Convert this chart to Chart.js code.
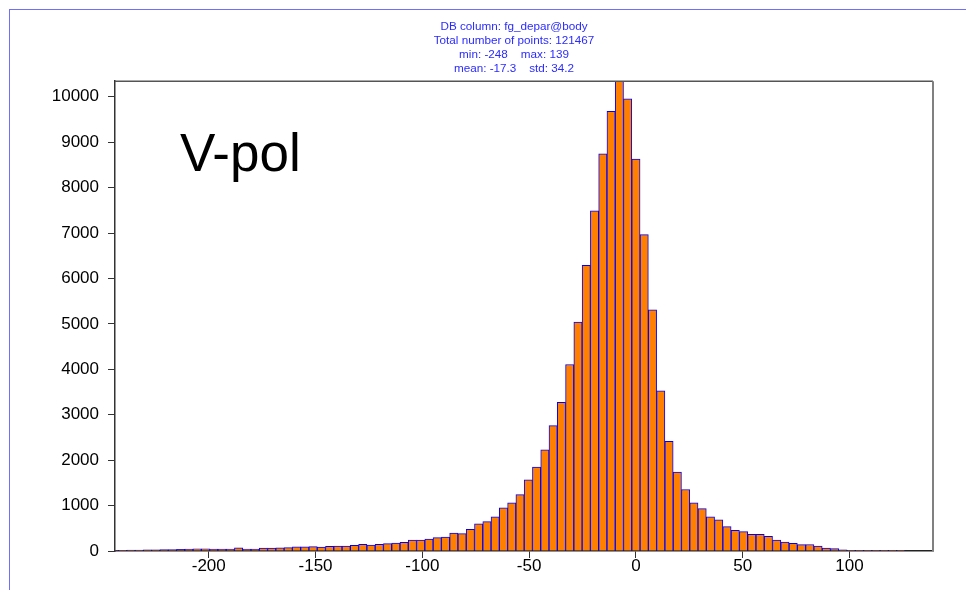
<!DOCTYPE html>
<html><head><meta charset="utf-8">
<script src="https://cdn.jsdelivr.net/npm/chart.js@4.4.0/dist/chart.umd.min.js"></script>
<style>
html,body{margin:0;padding:0;background:#fff;}
#wrap{position:relative;width:966px;height:590px;overflow:hidden;}
#frame{position:absolute;left:8.5px;top:8.5px;width:1200px;height:1200px;border-left:1.5px solid #6f6fff;border-top:1.5px solid #6f6fff;}
canvas{position:absolute;left:0;top:0;}
</style></head><body>
<div id="wrap"><div id="frame"></div><canvas id="c" width="966" height="590"></canvas></div>
<script>
// ---- data ----
const titleLines = [
  'DB column: fg_depar@body',
  'Total number of points: 121467',
  'min: -248    max: 139',
  'mean: -17.3    std: 34.2'
];
const panelLabel = 'V-pol';
const binStart = -246.12;   // left edge of first histogram bin
const binWidth = 3.876;     // histogram bin width
const counts = [
  10, 15, 20, 20, 25, 25, 30, 30, 35, 40,
  50, 50, 40, 40, 45, 70, 40, 45, 65, 65,
  70, 75, 90, 90, 95, 85, 102, 110, 110, 124,
  146, 132, 146, 161, 177, 190, 243, 243, 265, 294,
  309, 397, 382, 477, 596, 647, 750, 949, 1059, 1240,
  1567, 1846, 2229, 2759, 3274, 4106, 5040, 6291, 7490, 8742,
  9682, 10350, 9956, 8631, 6967, 5311, 3528, 2416, 1739, 1354,
  1062, 934, 750, 684, 536, 455, 426, 367, 367, 323,
  243, 199, 168, 139, 143, 110, 66, 51, 25, 15,
  8, 5, 3, 2, 1, 1, 0, 0, 0, 0
];
const xTickValues = [-200, -150, -100, -50, 0, 50, 100];
const yTickValues = [0, 1000, 2000, 3000, 4000, 5000, 6000, 7000, 8000, 9000, 10000];
const xMin = -243.9, xMax = 139.1;
const yMin = 0, yMax = 10344;

const binCenters = counts.map((_, i) => binStart + (i + 0.5) * binWidth);
const points = counts.map((c, i) => ({x: binCenters[i], y: c}));

const FONT = 'Liberation Sans, Arial, Helvetica, sans-serif';

const framePlugin = {
  id: 'frame',
  afterDraw(chart) {
    const {ctx, chartArea: a} = chart;
    ctx.save();
    ctx.lineWidth = 1.5;
    ctx.strokeStyle = '#555';
    ctx.beginPath(); ctx.moveTo(a.left, a.top); ctx.lineTo(a.right, a.top); ctx.stroke();
    ctx.strokeStyle = '#808080';
    ctx.lineWidth = 2;
    ctx.beginPath(); ctx.moveTo(a.right, a.top); ctx.lineTo(a.right, a.bottom); ctx.stroke();
    // panel label placed in data coordinates
    const px = chart.scales.x.getPixelForValue(-213.5);
    const py = chart.scales.y.getPixelForValue(8358);
    ctx.fillStyle = '#000';
    ctx.font = '53px ' + FONT;
    ctx.textBaseline = 'alphabetic';
    ctx.textAlign = 'left';
    ctx.fillText(panelLabel, px, py);
    ctx.restore();
  }
};

new Chart(document.getElementById('c'), {
  type: 'bar',
  data: {
    datasets: [{
      data: points,
      backgroundColor: '#ff8000',
      borderColor: '#0000ff',
      borderWidth: 1,
      barPercentage: 1,
      categoryPercentage: 1
    }]
  },
  options: {
    responsive: false,
    animation: false,
    devicePixelRatio: 1,
    layout: {padding: {left: 95, right: 33, top: 0, bottom: 0}},
    plugins: {
      legend: {display: false},
      tooltip: {enabled: false},
      title: {
        display: true,
        text: titleLines,
        color: '#2b2bff',
        font: {family: FONT, size: 11.7, weight: 'normal', lineHeight: 1.2},
        padding: {top: 20, bottom: 5}
      }
    },
    scales: {
      x: {
        type: 'linear',
        min: xMin, max: xMax,
        offset: false,
        afterFit(s) { s.height = 39; },
        afterBuildTicks(s) { s.ticks = xTickValues.map(v => ({value: v})); },
        grid: {display: true, drawOnChartArea: false, drawTicks: true, tickLength: 7, color: '#333', offset: false},
        border: {display: true, color: '#222', width: 1.5},
        ticks: {
          autoSkip: false, maxRotation: 0,
          color: '#000', padding: -2,
          font: {family: FONT, size: 17},
          callback: v => String(v)
        }
      },
      y: {
        type: 'linear',
        min: yMin, max: yMax,
        afterFit(s) { s.width = 20; s._computeLabelArea = () => undefined; },
        afterBuildTicks(s) { s.ticks = yTickValues.map(v => ({value: v})); },
        grid: {display: true, drawOnChartArea: false, drawTicks: true, tickLength: 7, color: '#333'},
        border: {display: true, color: '#333', width: 1.5},
        ticks: {
          autoSkip: false,
          color: '#000', padding: 9,
          font: {family: FONT, size: 17},
          callback: v => String(v)
        }
      }
    }
  },
  plugins: [framePlugin]
});
</script>
</body></html>
